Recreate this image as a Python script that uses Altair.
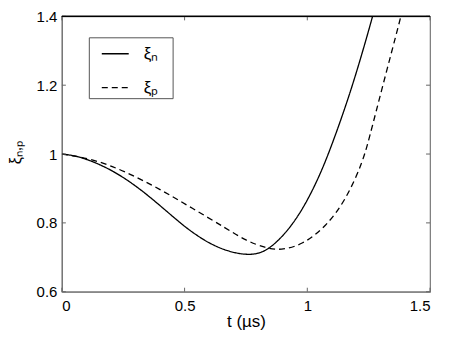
import altair as alt
import pandas as pd

# xi_n (solid)
t_n = [0.0, 0.073, 0.209, 0.344, 0.48, 0.55, 0.615, 0.683, 0.75, 0.80, 0.846, 0.913, 0.981, 1.049, 1.103, 1.184, 1.266, 1.28]
xi_n = [1.0, 0.994, 0.954, 0.886, 0.800, 0.763, 0.735, 0.716, 0.707, 0.710, 0.725, 0.770, 0.838, 0.934, 1.031, 1.195, 1.398, 1.44]
# xi_p (dashed)
t_p = [0.0, 0.13, 0.26, 0.4, 0.53, 0.67, 0.75, 0.83, 0.89, 0.98, 1.076, 1.157, 1.225, 1.252, 1.306, 1.381, 1.395]
xi_p = [1.0, 0.985, 0.949, 0.898, 0.843, 0.784, 0.748, 0.727, 0.720, 0.736, 0.789, 0.867, 0.975, 1.045, 1.195, 1.398, 1.44]

labels = ["ξₙ", "ξₚ"]
x_ticks = [0, 0.5, 1, 1.5]
y_ticks = [0.6, 0.8, 1.0, 1.2, 1.4]

W, H = 369, 276
FONT = "Liberation Sans"
TL = 4  # inward tick length

df = pd.concat([
    pd.DataFrame({"t": t_n, "xi": xi_n, "s": labels[0]}),
    pd.DataFrame({"t": t_p, "xi": xi_p, "s": labels[1]}),
])

xs = alt.Scale(domain=[0, 1.5], nice=False, zero=False)
ys = alt.Scale(domain=[0.6, 1.4], nice=False, zero=False)

x_axis = alt.Axis(values=x_ticks, format="~g", title="t (µs)", titleBaseline="alphabetic",
                  titleY=35, labelPadding=7)
y_axis = alt.Axis(values=y_ticks, format="~g", title="ξₙ,ₚ", titleX=-41, titleY=136,
                  titleBaseline="alphabetic", titleAlign="center", titleFontSize=16,
                  labelPadding=5)

lines = alt.Chart(df).mark_line(
    interpolate="basis", clip=True, color="black", strokeWidth=1.3
).encode(
    x=alt.X("t:Q", scale=xs, axis=x_axis),
    y=alt.Y("xi:Q", scale=ys, axis=y_axis),
    strokeDash=alt.StrokeDash("s:N", scale=alt.Scale(domain=labels, range=[[1, 0], [6, 4]]),
                              legend=alt.Legend(
                                  title=None, orient="none", legendX=27, legendY=21,
                                  padding=2, strokeColor="#555", fillColor="white",
                                  symbolType="stroke", symbolStrokeColor="black",
                                  symbolStrokeWidth=1.3, symbolSize=729, symbolOffset=10,
                                  labelFont=FONT, labelFontSize=17, labelOffset=14,
                                  labelExpr="datum.label + '\u2800'",
                                  rowPadding=11)),
)

xt = pd.DataFrame({"t": x_ticks})
yt = pd.DataFrame({"xi": y_ticks})
rule_style = dict(color="#666", strokeWidth=1)
xb = alt.Chart(xt).mark_rule(**rule_style).encode(
    x=alt.X("t:Q", scale=xs, axis=x_axis), y=alt.value(H), y2=alt.value(H - TL))
xtp = alt.Chart(xt).mark_rule(**rule_style).encode(
    x=alt.X("t:Q", scale=xs, axis=x_axis), y=alt.value(0), y2=alt.value(TL))
yl = alt.Chart(yt).mark_rule(**rule_style).encode(
    y=alt.Y("xi:Q", scale=ys, axis=y_axis), x=alt.value(0), x2=alt.value(TL))
yr = alt.Chart(yt).mark_rule(**rule_style).encode(
    y=alt.Y("xi:Q", scale=ys, axis=y_axis), x=alt.value(W), x2=alt.value(W - TL))
top = alt.Chart(xt).mark_rule(color="black", strokeWidth=1).encode(
    x=alt.value(0), x2=alt.value(W), y=alt.value(0))

chart = alt.layer(lines, xb, xtp, yl, yr, top).properties(
    width=W, height=H, autosize="none",
    padding={"left": 54, "top": 8, "right": 12, "bottom": 40},
).configure_view(stroke="#777", strokeWidth=1.2).configure_axis(
    grid=False, ticks=False, domainColor="#777", domainWidth=1.2,
    labelFont=FONT, labelFontSize=15, labelColor="black",
    titleFont=FONT, titleFontSize=17, titleFontWeight="normal", titleColor="black",
)

chart.save("out.html", embed_options={"renderer": "svg", "actions": False})
